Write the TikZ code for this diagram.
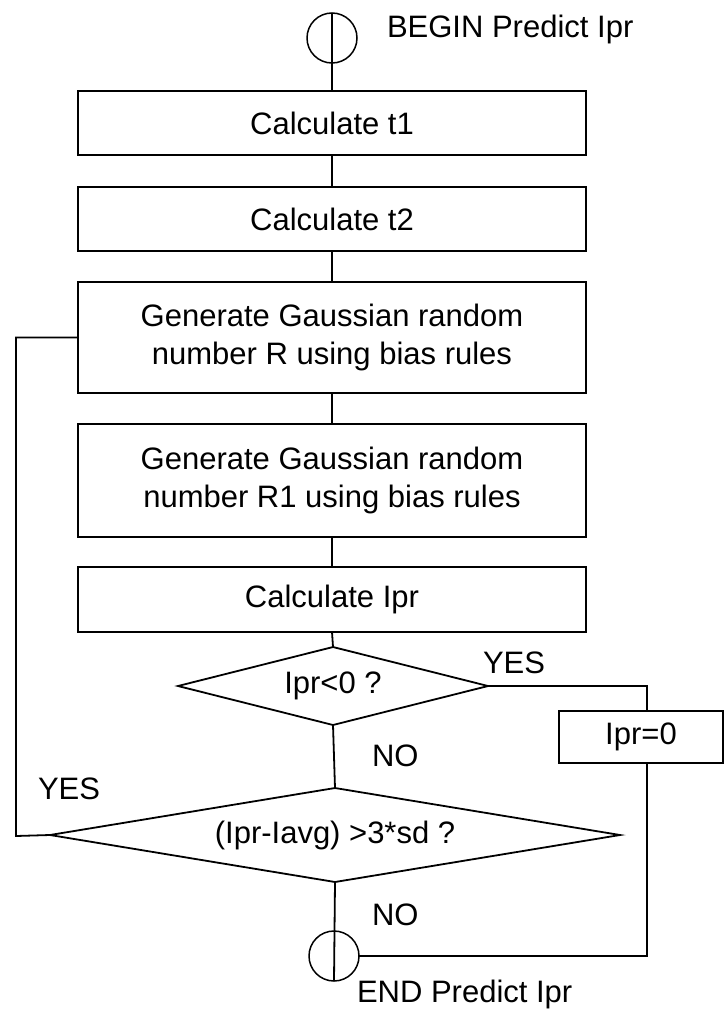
\documentclass[tikz,border=0pt]{standalone}
\usepackage{fontspec}
\setmainfont{Liberation Sans}
\usetikzlibrary{shapes.geometric}
\begin{document}
\begin{tikzpicture}[x=1pt,y=-1pt, line width=1.8pt,
  every node/.style={font=\fontsize{31}{38}\selectfont, inner sep=0pt, outer sep=0pt},
  procbox/.style={draw, rectangle, minimum width=508pt, align=center},
  decision/.style={draw, diamond},
  terminal/.style={draw, circle, minimum size=50pt, line width=1.5pt},
  lbl/.style={anchor=base west}]
\useasboundingbox (0,0) rectangle (724,1009);
% nodes
\node[terminal] (bgn) at (332,38) {};
\node[lbl] (bgnt) at (387,37) {BEGIN Predict Ipr};
\node[procbox, minimum height=64pt] (b1) at (332,123) {Calculate t1};
\node[procbox, minimum height=64pt] (b2) at (332,219) {Calculate t2};
\node[procbox, minimum height=111pt] (b3) at (332,337.5) {Generate Gaussian random\\number R using bias rules};
\node[procbox, minimum height=113pt] (b4) at (332,480.5) {Generate Gaussian random\\number R1 using bias rules};
\node[procbox, minimum height=65pt] (b5) at (332,599.5) {Calculate Ipr};
\node[decision, minimum width=310pt, minimum height=78pt, aspect=4] (d1) at (333,686) {Ipr<0 ?};
\node[decision, minimum width=570pt, minimum height=94pt, aspect=6] (d2) at (335,835) {(Ipr-Iavg) >3*sd ?};
\node[procbox, minimum width=164pt, minimum height=52pt] (z) at (641,737) {Ipr=0};
\node[terminal] (end) at (334,956) {};
\node[lbl] (endt) at (357,1002) {END Predict Ipr};
\node[lbl] (yes1) at (483,673) {YES};
\node[lbl] (no1) at (372,766) {NO};
\node[lbl] (yes2) at (38,799) {YES};
\node[lbl] (no2) at (372,925) {NO};
\coordinate (lft) at (16,836);
\coordinate (rt) at (647,686);
% connectors
\draw (bgn.north) -- (b1.north);
\draw (b1.south) -- (b2.north);
\draw (b2.south) -- (b3.north);
\draw (b3.south) -- (b4.north);
\draw (b4.south) -- (b5.north);
\draw (b5.south) -- (d1.north);
\draw (d1.south) -- (d2.north);
\draw (d1.east) -- (rt) -- (rt |- z.north);
\draw (rt |- z.south) |- (end.east);
\draw (d2.west) -- (lft) |- (b3.west);
\draw (d2.south) -- (end.south);
\end{tikzpicture}
\end{document}
